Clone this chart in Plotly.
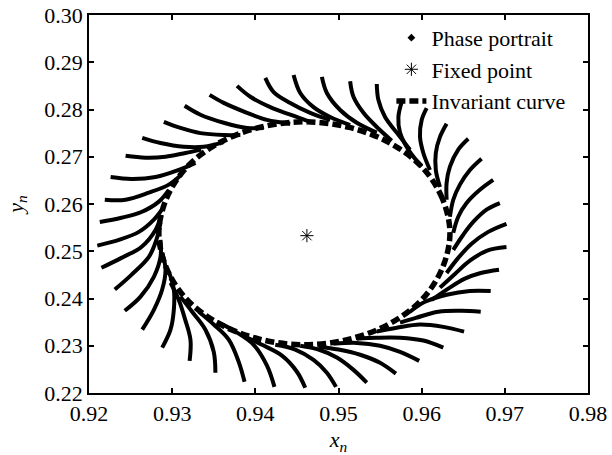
import plotly.graph_objects as go

# ---- axis ticks ----
x_ticks = [0.92, 0.93, 0.94, 0.95, 0.96, 0.97, 0.98]
x_ticktext = ["0.92", "0.93", "0.94", "0.95", "0.96", "0.97", "0.98"]
y_ticks = [0.22, 0.23, 0.24, 0.25, 0.26, 0.27, 0.28, 0.29, 0.30]
y_ticktext = ["0.22", "0.23", "0.24", "0.25", "0.26", "0.27", "0.28", "0.29", "0.30"]

# ---- phase portrait arms (outer start -> joining the invariant curve) ----
arm_x = [
    [0.9412, 0.9422, 0.9442, 0.9466, 0.9490],
    [0.9446, 0.9454, 0.9470, 0.9490, 0.9514],
    [0.9480, 0.9486, 0.9502, 0.9522, 0.9546],
    [0.9514, 0.9518, 0.9530, 0.9546, 0.9564],
    [0.9546, 0.9548, 0.9556, 0.9570, 0.9586],
    [0.9576, 0.9572, 0.9574, 0.9584, 0.9600],
    [0.9606, 0.9600, 0.9598, 0.9602, 0.9610],
    [0.9630, 0.9622, 0.9617, 0.9617, 0.9622],
    [0.9656, 0.9644, 0.9634, 0.9630, 0.9630],
    [0.9672, 0.9658, 0.9646, 0.9638, 0.9634],
    [0.9686, 0.9670, 0.9654, 0.9644, 0.9638],
    [0.9694, 0.9678, 0.9662, 0.9650, 0.9638],
    [0.9702, 0.9680, 0.9660, 0.9644, 0.9630],
    [0.9702, 0.9678, 0.9658, 0.9640, 0.9622],
    [0.9693, 0.9671, 0.9652, 0.9632, 0.9612],
    [0.9683, 0.9658, 0.9630, 0.9604, 0.9586],
    [0.9671, 0.9648, 0.9620, 0.9593, 0.9574],
    [0.9651, 0.9626, 0.9598, 0.9570, 0.9546],
    [0.9626, 0.9602, 0.9574, 0.9546, 0.9522],
    [0.9597, 0.9574, 0.9550, 0.9522, 0.9494],
    [0.9569, 0.9550, 0.9526, 0.9500, 0.9476],
    [0.9534, 0.9518, 0.9498, 0.9476, 0.9454],
    [0.9497, 0.9486, 0.9470, 0.9448, 0.9424],
    [0.9460, 0.9450, 0.9432, 0.9408, 0.9388],
    [0.9423, 0.9414, 0.9398, 0.9376, 0.9354],
    [0.9387, 0.9380, 0.9368, 0.9350, 0.9332],
    [0.9352, 0.9350, 0.9340, 0.9324, 0.9310],
    [0.9321, 0.9322, 0.9315, 0.9308, 0.9298],
    [0.9288, 0.9298, 0.9302, 0.9302, 0.9296],
    [0.9264, 0.9278, 0.9288, 0.9292, 0.9288],
    [0.9243, 0.9262, 0.9278, 0.9286, 0.9286],
    [0.9231, 0.9251, 0.9272, 0.9281, 0.9286],
    [0.9215, 0.9239, 0.9263, 0.9280, 0.9287],
    [0.9210, 0.9236, 0.9260, 0.9278, 0.9290],
    [0.9213, 0.9239, 0.9263, 0.9284, 0.9296],
    [0.9219, 0.9244, 0.9272, 0.9296, 0.9311],
    [0.9226, 0.9251, 0.9280, 0.9308, 0.9328],
    [0.9244, 0.9268, 0.9292, 0.9316, 0.9335],
    [0.9264, 0.9286, 0.9314, 0.9338, 0.9362],
    [0.9290, 0.9310, 0.9334, 0.9362, 0.9382],
    [0.9315, 0.9334, 0.9362, 0.9390, 0.9410],
    [0.9345, 0.9362, 0.9390, 0.9414, 0.9442],
    [0.9378, 0.9394, 0.9418, 0.9442, 0.9466],
]
arm_y = [
    [0.2867, 0.2837, 0.2814, 0.2793, 0.2778],
    [0.2873, 0.2835, 0.2805, 0.2784, 0.2767],
    [0.2869, 0.2835, 0.2799, 0.2772, 0.2751],
    [0.2860, 0.2827, 0.2793, 0.2763, 0.2734],
    [0.2854, 0.2820, 0.2784, 0.2751, 0.2715],
    [0.2816, 0.2784, 0.2751, 0.2715, 0.2679],
    [0.2803, 0.2778, 0.2742, 0.2708, 0.2672],
    [0.2770, 0.2742, 0.2708, 0.2672, 0.2636],
    [0.2738, 0.2715, 0.2679, 0.2645, 0.2609],
    [0.2696, 0.2672, 0.2641, 0.2609, 0.2573],
    [0.2651, 0.2630, 0.2602, 0.2573, 0.2539],
    [0.2602, 0.2588, 0.2562, 0.2535, 0.2503],
    [0.2558, 0.2541, 0.2516, 0.2486, 0.2454],
    [0.2509, 0.2501, 0.2480, 0.2452, 0.2423],
    [0.2461, 0.2454, 0.2442, 0.2421, 0.2397],
    [0.2416, 0.2416, 0.2408, 0.2393, 0.2372],
    [0.2372, 0.2374, 0.2372, 0.2359, 0.2349],
    [0.2330, 0.2340, 0.2345, 0.2338, 0.2330],
    [0.2296, 0.2311, 0.2317, 0.2317, 0.2315],
    [0.2268, 0.2287, 0.2300, 0.2306, 0.2304],
    [0.2241, 0.2264, 0.2281, 0.2292, 0.2298],
    [0.2222, 0.2249, 0.2275, 0.2292, 0.2300],
    [0.2213, 0.2243, 0.2270, 0.2292, 0.2302],
    [0.2211, 0.2245, 0.2279, 0.2302, 0.2319],
    [0.2213, 0.2258, 0.2302, 0.2330, 0.2351],
    [0.2224, 0.2266, 0.2313, 0.2345, 0.2372],
    [0.2243, 0.2287, 0.2334, 0.2372, 0.2404],
    [0.2268, 0.2313, 0.2359, 0.2397, 0.2433],
    [0.2296, 0.2334, 0.2376, 0.2419, 0.2457],
    [0.2334, 0.2376, 0.2419, 0.2461, 0.2497],
    [0.2374, 0.2404, 0.2446, 0.2488, 0.2524],
    [0.2419, 0.2450, 0.2488, 0.2524, 0.2560],
    [0.2465, 0.2486, 0.2509, 0.2545, 0.2577],
    [0.2512, 0.2524, 0.2541, 0.2567, 0.2594],
    [0.2562, 0.2571, 0.2583, 0.2605, 0.2630],
    [0.2609, 0.2609, 0.2624, 0.2641, 0.2662],
    [0.2657, 0.2653, 0.2657, 0.2672, 0.2687],
    [0.2702, 0.2698, 0.2700, 0.2708, 0.2715],
    [0.2740, 0.2729, 0.2721, 0.2721, 0.2731],
    [0.2774, 0.2761, 0.2750, 0.2746, 0.2746],
    [0.2808, 0.2789, 0.2772, 0.2761, 0.2761],
    [0.2831, 0.2814, 0.2793, 0.2778, 0.2770],
    [0.2850, 0.2827, 0.2805, 0.2789, 0.2774],
]

# ---- invariant curve ----
curve_x = [0.9634, 0.9625, 0.9601, 0.9562, 0.9513, 0.9459, 0.9405, 0.9356, 0.9317, 0.9293,
           0.9284, 0.9293, 0.9317, 0.9356, 0.9405, 0.9459, 0.9513, 0.9562, 0.9601, 0.9625, 0.9634]
curve_y = [0.2538, 0.2611, 0.2677, 0.2729, 0.2762, 0.2774, 0.2762, 0.2729, 0.2677, 0.2611,
           0.2538, 0.2465, 0.2399, 0.2347, 0.2314, 0.2302, 0.2314, 0.2347, 0.2399, 0.2465, 0.2538]

# ---- fixed point ----
fixed_x = [0.9462]
fixed_y = [0.2533]

FONT = "Liberation Serif"

fig = go.Figure()

for ax_, ay_ in zip(arm_x, arm_y):
    fig.add_trace(go.Scatter(
        x=ax_, y=ay_, mode="lines",
        line=dict(color="black", width=4, shape="spline"),
        showlegend=False, hoverinfo="skip"))

fig.add_trace(go.Scatter(
    x=curve_x, y=curve_y, mode="lines", name="Invariant curve",
    line=dict(color="black", width=5.5, dash="9px,4px", shape="spline"),
    legendrank=3))

fig.add_trace(go.Scatter(
    x=fixed_x, y=fixed_y, mode="markers", name="Fixed point",
    marker=dict(symbol="asterisk-open", size=11, color="black",
                line=dict(color="black", width=1)),
    legendrank=2))

fig.add_trace(go.Scatter(
    x=[None], y=[None], mode="markers", name="Phase portrait",
    marker=dict(symbol="diamond", size=6, color="black"),
    legendrank=1))

axis_common = dict(
    showgrid=False, zeroline=False, automargin=False,
    ticks="inside", ticklen=5, tickwidth=1.5, tickcolor="black",
    showline=True, linecolor="black", linewidth=1.8, mirror="ticks",
    tickfont=dict(family=FONT, size=22, color="black"),
)

fig.update_layout(
    width=612, height=455,
    margin=dict(l=89, r=24, t=15, b=62, autoexpand=False),
    paper_bgcolor="white", plot_bgcolor="white",
    font=dict(family=FONT, size=22, color="black"),
    xaxis=dict(range=[0.92, 0.98], tickvals=x_ticks, ticktext=x_ticktext,
               title=dict(text="<i>x</i><sub><i>n</i></sub>",
                          font=dict(family=FONT, size=22)),
               **axis_common),
    yaxis=dict(range=[0.22, 0.30], tickvals=y_ticks, ticktext=y_ticktext,
               title=dict(text="<i>y</i><sub><i>n</i></sub>",
                          font=dict(family=FONT, size=22)),
               **axis_common),
    legend=dict(x=0.606, y=0.995, xanchor="left", yanchor="top",
                bgcolor="rgba(0,0,0,0)", borderwidth=0,
                font=dict(family=FONT, size=22, color="black"),
                tracegroupgap=0, itemwidth=30),
    showlegend=True,
)

fig.write_html("out.html", config={"displayModeBar": False},
               post_script="document.body.style.margin='0';")
